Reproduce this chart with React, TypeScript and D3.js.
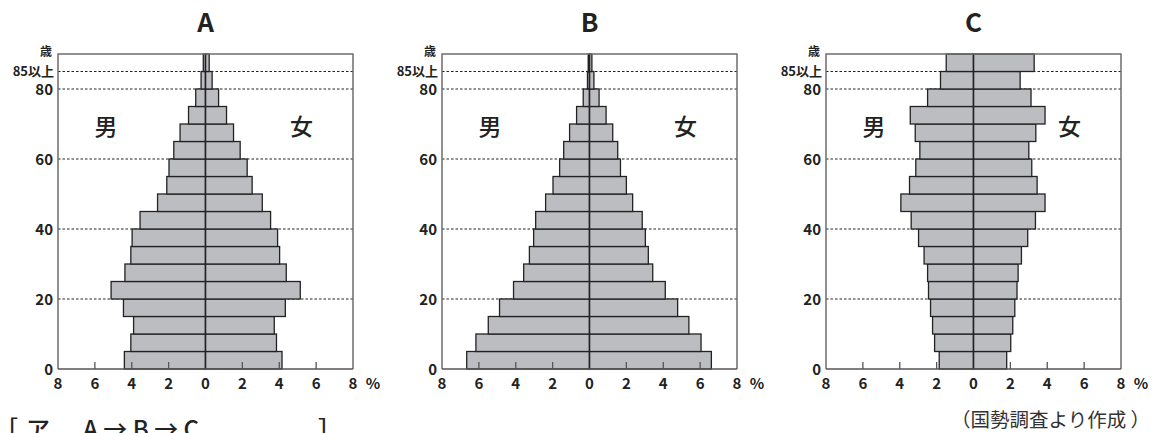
import React from 'react';
import * as d3 from 'd3';

// age groups (start age of each 5-year band, last band = 85以上)
const ageStarts = [0, 5, 10, 15, 20, 25, 30, 35, 40, 45, 50, 55, 60, 65, 70, 75, 80, 85];

// % of population, male / female, from youngest to oldest
const maleA = [4.4, 4.05, 3.9, 4.45, 5.12, 4.37, 4.05, 3.98, 3.55, 2.6, 2.1, 1.98, 1.72, 1.38, 0.92, 0.53, 0.24, 0.12];
const femaleA = [4.15, 3.85, 3.73, 4.33, 5.14, 4.38, 4.02, 3.91, 3.53, 3.08, 2.53, 2.26, 1.88, 1.52, 1.14, 0.71, 0.36, 0.2];
const maleB = [6.66, 6.16, 5.49, 4.88, 4.12, 3.57, 3.26, 3.03, 2.92, 2.38, 1.98, 1.62, 1.4, 1.08, 0.7, 0.34, 0.11, 0.07];
const femaleB = [6.61, 6.05, 5.39, 4.78, 4.11, 3.43, 3.19, 3.03, 2.86, 2.34, 2.0, 1.68, 1.53, 1.26, 0.9, 0.52, 0.24, 0.13];
const maleC = [1.86, 2.11, 2.22, 2.33, 2.44, 2.49, 2.68, 2.98, 3.38, 3.94, 3.47, 3.13, 2.91, 3.16, 3.43, 2.49, 1.79, 1.48];
const femaleC = [1.8, 2.02, 2.13, 2.24, 2.36, 2.42, 2.6, 2.94, 3.36, 3.88, 3.45, 3.16, 3.0, 3.38, 3.88, 3.12, 2.53, 3.29];

const panels = [
  { title: 'A', male: maleA, female: femaleA },
  { title: 'B', male: maleB, female: femaleB },
  { title: 'C', male: maleC, female: femaleC },
];

const xTicks = [-8, -6, -4, -2, 0, 2, 4, 6, 8];
const yTicks = [0, 20, 40, 60, 80];
const gridAges = [20, 40, 60, 80, 85];

const font = '"Noto Sans CJK JP", "Noto Sans", sans-serif';

const Pyramid: React.FC<{ left: number; title: string; male: number[]; female: number[] }> = ({ left, title, male, female }) => {
  const width = 295;
  const x = d3.scaleLinear().domain([-8, 8]).range([left, left + width]);
  const y = d3.scaleLinear().domain([0, 90]).range([369, 54]);
  const cx = x(0);
  return (
    <g fontFamily={font}>
      <text x={cx} y={32} textAnchor="middle" fontSize={26} fontWeight={700} fill="#222">{title}</text>
      {/* dotted grid */}
      {gridAges.map(a => (
        <line key={a} x1={x(-8)} x2={x(8)} y1={y(a)} y2={y(a)} stroke="#222" strokeWidth={1} strokeDasharray="2.5,2" />
      ))}
      {/* bars */}
      {ageStarts.map((a, i) => (
        <g key={a}>
          <rect x={x(-male[i])} y={y(a + 5)} width={cx - x(-male[i])} height={y(a) - y(a + 5)}
            fill="#bcbdc1" stroke="#222" strokeWidth={1.3} />
          <rect x={cx} y={y(a + 5)} width={x(female[i]) - cx} height={y(a) - y(a + 5)}
            fill="#bcbdc1" stroke="#222" strokeWidth={1.3} />
        </g>
      ))}
      <line x1={cx} x2={cx} y1={y(90)} y2={y(0)} stroke="#222" strokeWidth={1.3} />
      {/* frame */}
      <path d={`M${x(-8)},${y(0)}V${y(90)}H${x(8)}V${y(0)}`} fill="none" stroke="#6e6e6e" strokeWidth={1.5} />
      <line x1={x(-8)} x2={x(8)} y1={y(0)} y2={y(0)} stroke="#555" strokeWidth={1.5} />
      {xTicks.filter(t => Math.abs(t) !== 8 && t !== 0).map(t => (
        <line key={t} x1={x(t)} x2={x(t)} y1={y(0)} y2={y(0) - 7} stroke="#555" strokeWidth={1.3} />
      ))}
      {/* x tick labels */}
      {xTicks.map(t => (
        <text key={t} x={x(t)} y={389} textAnchor="middle" fontSize={15} fontWeight={700} fill="#222">{Math.abs(t)}</text>
      ))}
      <text x={x(8) + 20} y={389} textAnchor="middle" fontSize={15} fontWeight={700} fill="#222">%</text>
      {/* y tick labels */}
      {yTicks.map(t => (
        <text key={t} x={x(-8) - 5} y={y(t) + 5.5} textAnchor="end" fontSize={15} fontWeight={700} fill="#222">{t}</text>
      ))}
      <text x={x(-8) - 4} y={y(85) + 4} textAnchor="end" fontSize={13} fontWeight={700} fill="#222">85以上</text>
      <text x={x(-8) - 6} y={y(90) + 2} textAnchor="end" fontSize={12} fontWeight={700} fill="#222">歳</text>
      {/* sex labels */}
      <text x={x(-5.4)} y={135} textAnchor="middle" fontSize={23} fontWeight={500} fill="#222">男</text>
      <text x={x(5.2)} y={135} textAnchor="middle" fontSize={23} fontWeight={500} fill="#222">女</text>
    </g>
  );
};

export default function App() {
  return (
    <svg width={1157} height={433} style={{ position: 'absolute', left: 0, top: 0, background: '#fff' }}>
      {panels.map((p, i) => (
        <Pyramid key={p.title} left={58 + i * 384} title={p.title} male={p.male} female={p.female} />
      ))}
      <text x={1150} y={427} textAnchor="end" fontSize={19.5} fill="#333" fontFamily={font}>（国勢調査より作成 ）</text>
      <g fontFamily={font} fontSize={24} fontWeight={500} fill="#222">
        <text x={-6} y={438}>［</text>
        <text x={26} y={438}>ア</text>
        <text x={83} y={438}>A → B → C</text>
        <text x={318} y={438}>］</text>
      </g>
    </svg>
  );
}
